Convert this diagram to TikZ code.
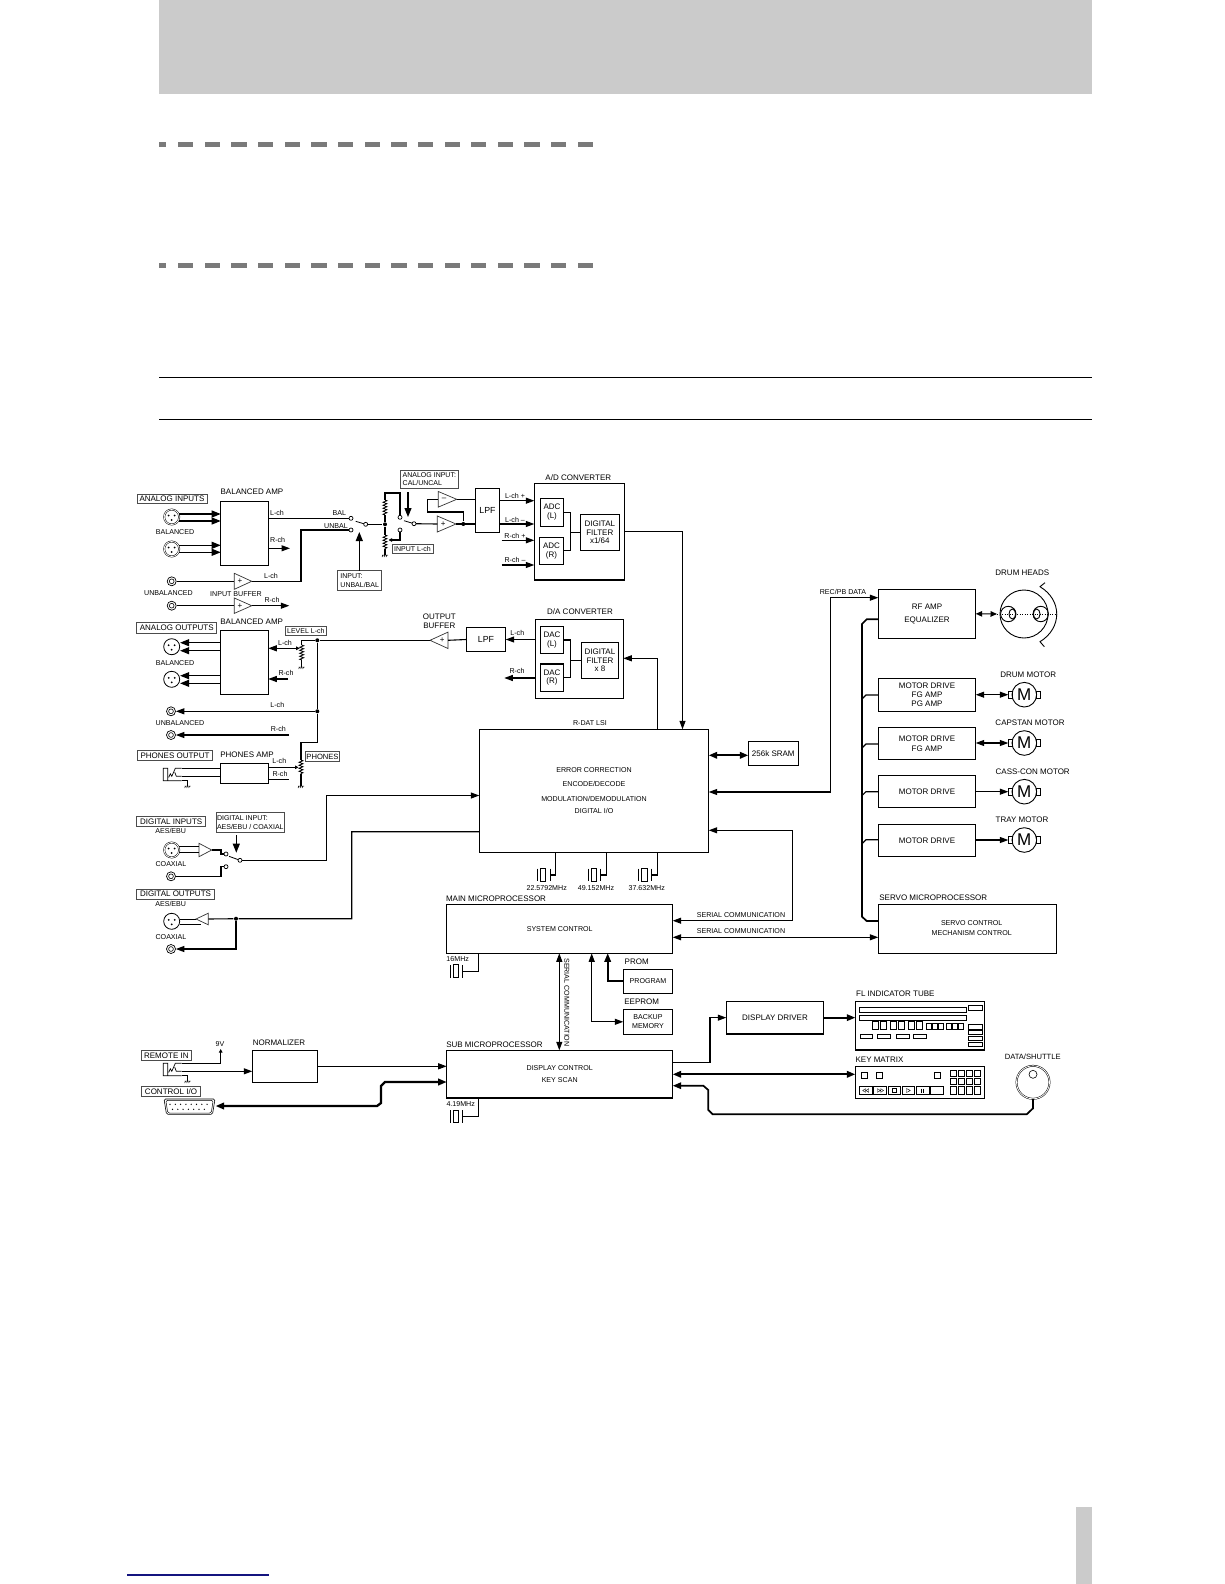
\documentclass[tikz,border=0pt]{standalone}
\usepackage{fontspec}
\setmainfont{Liberation Sans}
\usetikzlibrary{arrows.meta,decorations.pathmorphing}
\definecolor{bandgray}{HTML}{CBCBCB}
\definecolor{dashgray}{HTML}{7A7A7A}
\definecolor{linkblue}{HTML}{14147F}
\newcommand{\blockbox}[7][]{\node[blockbox,#1,minimum width={(#5-#3)*1pt},minimum height={(#6-#4)*1pt}] (#2) at ({(#3+#5)/2},{(#4+#6)/2}) {#7};}
\newcommand{\amptri}[6]{
  \coordinate (#1-in) at (#2,#4);
  \coordinate (#1-out) at (#3,#4);
  \draw[ampline] (#2,#4-#5) -- (#3,#4) -- (#2,#4+#5) -- cycle;
  \node[biglab] (#1-s) at ({#2+(#3-#2)*.32},#4) {#6};
}
\newcommand{\zigres}[4]{
  \coordinate (#1-t) at (#2,#3);
  \coordinate (#1-b) at (#2,#4);
  \draw[line width=.8pt,decorate,decoration={zigzag,segment length=3pt,amplitude=2pt}] (#1-t) -- (#1-b);
}
\newcommand{\groundsym}[3]{
  \coordinate (#1) at (#2,#3);
  \draw[line width=.5pt,shift={(#2,#3)}] (-3,0) -- (3,0) (-2,0) -- (-3,2) (0,0) -- (-1,2) (2,0) -- (1,2);
}
\newcommand{\xlrsym}[4]{
  \node[#4] (#1) at (#2,#3) {};
  \fill[shift={(#2,#3)}] (-3,-1.5) circle (1) (3,-1.5) circle (1) (0,3) circle (1);
}
\newcommand{\jacksym}[3]{
  \node[jacknode] (#1) at (#2,#3) {};
  \draw[line width=.6pt] (#1) circle (2.4);
}
\newcommand{\crystal}[5]{
  \coordinate (#1-r) at (#3,#4);
  \draw[line width=.9pt] (#2,#4-#5) -- (#2,#4+#5) (#3,#4-#5) -- (#3,#4+#5);
  \draw[line width=.9pt] ({#2+3.6},#4-#5) rectangle ({#3-4.2},#4+#5);
}
\newcommand{\phonejack}[2]{
  \coordinate (#1-tip) at (181.7,#2);
  \coordinate (#1-ring) at (181.7,#2+8);
  \coordinate (#1-sl) at (181.7,#2+12.4);
  \draw[line width=.7pt,shift={(163.3,#2)}] (0,0) rectangle (4.4,12.4) (4.4,12.4) -- (18.4,12.4)
    (18.4,0) -- (12,0) -- (8.5,8) -- (7,5.5) -- (5.5,9) (18.4,8) -- (13,8) -- (11.5,4);
}
\newcommand{\motorsym}[3]{
  \node[motorbody] (#1) at (#2,#3) {M};
  \draw[line width=.9pt] (#2-16,#3-3.7) rectangle (#2-12,#3+3.7) (#2+12,#3-3.7) rectangle (#2+16.3,#3+3.7);
  \coordinate (#1-l) at (#2-16,#3);
}
\begin{document}
\begin{tikzpicture}[
  x=1pt,y=-1pt,
  line width=1.1pt,
  >={Triangle[length=8.5pt,width=6pt]},
  lab/.style={font=\fontsize{7.1}{8.6}\selectfont,inner sep=0pt,align=center},
  biglab/.style={font=\fontsize{8}{8.8}\selectfont,inner sep=0pt,align=center},
  blockbox/.style={draw,rectangle,inner sep=0pt,outer sep=0pt,align=center,font=\fontsize{8}{8.6}\selectfont},
  smallbox/.style={font=\fontsize{7.1}{8.6}\selectfont},
  framelab/.style={draw=black!70,line width=.7pt},
  framesmall/.style={draw=black!70,line width=.7pt,font=\fontsize{7}{8.4}\selectfont},
  lpfbox/.style={font=\fontsize{8.8}{10}\selectfont},
  contact/.style={draw,circle,line width=.7pt,inner sep=0pt,minimum size=4pt,outer sep=0pt},
  dotnode/.style={fill,circle,inner sep=0pt,minimum size=4pt},
  ampline/.style={line width=.7pt,draw=black!80},
  xlrin/.style={draw,circle,double,double distance=.8pt,line width=.5pt,inner sep=0pt,minimum size=15pt},
  xlrout/.style={draw,circle,line width=.8pt,inner sep=0pt,minimum size=16pt},
  jacknode/.style={draw,circle,line width=.7pt,inner sep=0pt,minimum size=9pt},
  motorbody/.style={draw,circle,line width=.9pt,inner sep=0pt,minimum size=24.6pt,font=\fontsize{17}{17}\selectfont},
  smalltip/.style={-{Triangle[length=3.5pt,width=3.5pt]}},
  fatline/.style={line width=2.3pt,>={Triangle[length=8.5pt,width=6.5pt]}},
  midline/.style={line width=1.7pt,>={Triangle[length=8.5pt,width=6.5pt]}},
  bigtip/.style={>={Triangle[length=9pt,width=7pt]}}
]
  \useasboundingbox (0,0) rectangle (1224,1584);
  \fill[bandgray] (159,0) rectangle (1092,94);
  \foreach \y in {142,262.7} {
    \fill[dashgray] (159,\y) rectangle ++(6.5,5.2);
    \foreach \i in {0,...,15}
      \fill[dashgray] ({178+26.65*\i},\y) rectangle ++(15.3,5.2);
  }
  \draw (159,377.3) -- (1092,377.3);
  \draw (159,419.3) -- (1092,419.3);
  \draw[linkblue] (127.2,1575) -- (269,1575);
  \fill[bandgray] (1076,1507) rectangle (1092,1584);

  \blockbox[framelab]{anainbox}{137}{494}{207}{503.3}{ANALOG INPUTS}
  \node[biglab] (balinlab) at (252,491.7) {BALANCED AMP};
  \blockbox{balin}{220.7}{501.7}{268.3}{565.3}{}
  \xlrsym{xlra}{171.7}{517}{xlrin}
  \xlrsym{xlrb}{171.7}{549}{xlrin}
  \node[lab] (balinl) at (175,532.3) {BALANCED};
  \draw[->,bigtip] (xlra.east |- 0,514) -- (balin.west |- 0,514);
  \draw[->,bigtip] (xlra.east |- 0,521) -- (balin.west |- 0,521);
  \draw[->,bigtip] (xlrb.east |- 0,545.3) -- (balin.west |- 0,545.3);
  \draw[->,bigtip] (xlrb.east |- 0,552.3) -- (balin.west |- 0,552.3);
  \node[lab] (lchina) at (277,513.3) {L-ch};
  \node[lab] (rchina) at (277.7,540) {R-ch};
  \node[lab] (ballab) at (339.3,512.7) {BAL};
  \node[lab] (unballab) at (336,526.3) {UNBAL};
  \node[contact] (bal) at (351,518.3) {};
  \node[contact] (unbal) at (351,530) {};
  \node[contact] (swa) at (365.7,524.3) {};
  \node[dotnode] (jna) at (385,524.3) {};
  \coordinate (roa) at (290,548.3);
  \draw (balin.east |- bal) -- (bal);
  \draw[->] (balin.east |- roa) -- (roa);
  \draw[line width=.8pt] (swa) -- ++(-10,-3);
  \draw (swa) -- (jna);
  \jacksym{jacka}{171.7}{581.3}
  \jacksym{jackb}{171.7}{605.7}
  \amptri{ampa}{234.3}{251.7}{581.3}{8}{+}
  \amptri{ampb}{234.3}{251.7}{605.7}{7.7}{+}
  \coordinate (unbcor) at (301,581.3);
  \coordinate (robout) at (289.3,605.7);
  \draw (jacka) -- (ampa-in);
  \draw (ampa-out) -- (unbcor) |- (unbal);
  \draw (jackb) -- (ampb-in);
  \draw[->] (ampb-out) -- (robout);
  \node[lab] (lchinb) at (271,575.7) {L-ch};
  \node[lab] (rchinb) at (272,600) {R-ch};
  \node[lab] (unbinl) at (168.5,593.3) {UNBALANCED};
  \node[lab] (bufinl) at (236,594) {INPUT BUFFER};
  \blockbox[framesmall,align=left]{unbbox}{337.7}{570.7}{381.7}{590.3}{INPUT:\\UNBAL/BAL}
  \coordinate (unbtip) at (359.3,532);
  \draw[->,bigtip] (unbbox.north -| unbtip) -- (unbtip);

  \zigres{rupp}{385}{500}{515}
  \zigres{rlow}{385}{535}{549}
  \groundsym{gnda}{385}{555}
  \node[contact] (calup) at (400,517.3) {};
  \node[contact] (caldn) at (400,530) {};
  \node[contact] (swb) at (414,523.7) {};
  \coordinate (rupc) at (385,493);
  \coordinate (wipa) at (388.5,540);
  \draw (jna) -- (rupp-b);
  \draw (rupp-t) -- (rupc) -| (calup);
  \draw (jna) -- (rlow-t);
  \draw (rlow-b) -- (gnda);
  \draw[smalltip] (caldn) |- (wipa);
  \draw[line width=.8pt] (swb) -- ++(-10,-3);
  \blockbox[framesmall]{inlbox}{392}{544}{433}{553}{INPUT L-ch}
  \blockbox[framesmall,align=left]{calbox}{400.7}{470}{458}{488}{ANALOG INPUT:\\CAL/UNCAL}
  \coordinate (calst) at (408,492);
  \coordinate (caltip) at (408,517);
  \draw[->,bigtip] (calst) -- (caltip);
  \amptri{ampc}{438.3}{456.7}{499.3}{7.8}{--}
  \amptri{ampd}{437.3}{456}{524}{8}{+}
  \blockbox[lpfbox]{lpfa}{475.7}{488.3}{499.3}{532.3}{LPF}
  \node[dotnode] (jnb) at (463.3,524) {};
  \coordinate (fba) at (463.3,512);
  \coordinate (fbb) at (427.3,512);
  \draw (swb) -- (ampd-in);
  \draw (ampd-out) -- (lpfa.west |- ampd-out);
  \draw (ampc-out) -- (lpfa.west |- ampc-out);
  \draw (jnb) -- (fba) -- (fbb) |- (ampc-in);

  \node[biglab] (adlab) at (578.3,477.3) {A/D CONVERTER};
  \blockbox{adbox}{534.3}{483.3}{624.3}{580}{}
  \blockbox{adcl}{540.3}{498.3}{563.7}{526.3}{ADC\\(L)}
  \blockbox{adcr}{539.3}{537.3}{563.7}{564.3}{ADC\\(R)}
  \blockbox{filta}{580.3}{514.3}{619.3}{550.3}{DIGITAL\\FILTER\\x1/64}
  \coordinate (adcj) at (570.7,532.3);
  \draw (adcl.east) -| (adcj) |- (adcr.east);
  \draw (adcj) -- (filta.west);
  \coordinate (rpa) at (501.7,540.3);
  \coordinate (rma) at (501.7,565);
  \draw[->] (lpfa.east |- 0,500.7) -- (adbox.west |- 0,500.7);
  \draw[->] (lpfa.east |- 0,524) -- (adbox.west |- 0,524);
  \draw[->] (rpa) -- (adbox.west |- rpa);
  \draw[->] (rma) -- (adbox.west |- rma);
  \node[lab] (lpl) at (515,495.7) {L-ch +};
  \node[lab] (lml) at (515,520) {L-ch --};
  \node[lab] (rpl) at (515,536.3) {R-ch +};
  \node[lab] (rml) at (515,560.3) {R-ch --};

  \node[biglab] (dalab) at (580,612) {D/A CONVERTER};
  \blockbox{dabox}{535.3}{619.3}{623.3}{698.3}{}
  \blockbox{dacl}{540.3}{626.3}{563.7}{653.7}{DAC\\(L)}
  \blockbox{dacr}{540.3}{664}{563.7}{691.3}{DAC\\(R)}
  \blockbox{filtb}{581.3}{642.3}{618.7}{678.7}{DIGITAL\\FILTER\\x 8}
  \coordinate (dacj) at (570.7,660.5);
  \draw (dacl.east) -| (dacj) |- (dacr.east);
  \draw (dacj) -- (filtb.west);
  \blockbox[lpfbox]{lpfb}{466.3}{627.3}{505.7}{651.7}{LPF}
  \coordinate (roda) at (504.3,678);
  \draw[->] (dabox.west |- lpfb) -- (lpfb.east);
  \draw[->] (dabox.west |- roda) -- (roda);
  \node[lab] (lchda) at (517.3,633.3) {L-ch};
  \node[lab] (rchda) at (517,670.7) {R-ch};
  \amptri{ampe}{448}{430}{640.3}{8.2}{+}
  \node[biglab] (outbuf) at (439.3,621.5) {OUTPUT\\BUFFER};
  \draw (lpfb.west) -- (ampe-in);

  \blockbox[framelab]{anaoutbox}{136.7}{622.7}{216.7}{633}{ANALOG OUTPUTS}
  \node[biglab] (baloutlab) at (251.7,621.3) {BALANCED AMP};
  \blockbox{balout}{220.7}{630.3}{268.3}{694.3}{}
  \xlrsym{xlrc}{171.7}{646.7}{xlrout}
  \xlrsym{xlrd}{171.7}{679.3}{xlrout}
  \node[lab] (balol) at (175,663.3) {BALANCED};
  \foreach \n/\y in {xlrc/642.7,xlrc/650.7,xlrd/675.7,xlrd/683.3}
    \draw[->,bigtip] (balout.west |- 0,\y) -- (\n.east |- 0,\y);
  \blockbox[framesmall]{lvlbox}{285}{626.7}{326.7}{635.3}{LEVEL L-ch}
  \zigres{lvp}{301.7}{645}{660}
  \groundsym{gndb}{301.7}{667}
  \node[dotnode] (jnc) at (317.3,640.3) {};
  \coordinate (lvc) at (301.7,640.3);
  \coordinate (lvw) at (295,648.3);
  \coordinate (lvt) at (299.7,648.3);
  \coordinate (rlv) at (288,679);
  \draw (ampe-out) -- (jnc) -- (lvc) -- (lvp-t);
  \draw (lvp-b) -- (gndb);
  \draw[->] (lvw) -- (balout.east |- lvw);
  \draw[smalltip] (lvw) -- (lvt);
  \draw[->] (rlv) -- (balout.east |- rlv);
  \node[lab] (lchlv) at (285,643) {L-ch};
  \node[lab] (rchlv) at (286,672.7) {R-ch};

  \jacksym{jackc}{171}{711.3}
  \jacksym{jackd}{171}{735}
  \node[dotnode] (jnd) at (317.3,711.3) {};
  \coordinate (phc) at (317.3,742.7);
  \coordinate (rjk) at (289,735);
  \draw (jnc) -- (jnd) -- (phc);
  \draw[->] (jnd) -- (jackc.east);
  \draw[->] (rjk) -- (jackd.east);
  \node[lab] (lchjk) at (277.3,704.7) {L-ch};
  \node[lab] (rchjk) at (278.3,729) {R-ch};
  \node[lab] (unbol) at (180,722.7) {UNBALANCED};

  \blockbox[framelab]{phonbox}{137.7}{750.3}{212.3}{760.3}{PHONES OUTPUT}
  \node[biglab] (phamplab) at (247,754.7) {PHONES AMP};
  \blockbox{phamp}{220.7}{763.3}{268.3}{783.3}{}
  \phonejack{phj}{768.3}
  \groundsym{gndc}{187.7}{786}
  \draw (phj-tip) -- (phamp.west |- phj-tip);
  \draw (phj-ring) -- (phamp.west |- phj-ring);
  \draw[line width=.7pt] (phj-sl) -| (gndc);
  \zigres{php}{301}{760}{774.3}
  \groundsym{gndd}{301}{786}
  \coordinate (phl) at (298.5,767.3);
  \coordinate (phr) at (289,779.3);
  \draw (phc) -| (php-t);
  \draw (php-b) -- (gndd);
  \draw[smalltip] (phamp.east |- phl) -- (phl);
  \draw (phamp.east |- phr) -- (phr);
  \blockbox[framelab,font=\fontsize{7.6}{8.6}\selectfont]{phbox}{305.3}{751.3}{339.7}{761.7}{PHONES}
  \node[lab] (lchph) at (279.3,761.3) {L-ch};
  \node[lab] (rchph) at (280,774) {R-ch};

  \node[lab] (lsilab) at (590,722.7) {R-DAT LSI};
  \blockbox[smallbox]{lsi}{479.3}{729.3}{708.7}{852.3}{ERROR CORRECTION\\[5.7pt]ENCODE/DECODE\\[5.7pt]MODULATION/DEMODULATION\\[4.1pt]DIGITAL I/O}
  \blockbox{sram}{748.3}{741.3}{798.3}{765.3}{256k SRAM}
  \draw[<->,fatline] (lsi.east |- 0,755.3) -- (sram.west |- 0,755.3);
  \coordinate (adout) at (682.5,531.3);
  \coordinate (daup) at (657.3,658.3);
  \draw[->] (adbox.east |- adout) -- (adout) -- (lsi.north -| adout);
  \draw[->] (lsi.north -| daup) -- (daup) -- (dabox.east |- daup);

  \blockbox[framelab]{diginbox}{136.7}{816.7}{205.7}{826}{DIGITAL INPUTS}
  \node[lab] (aesa) at (170.7,831) {AES/EBU};
  \blockbox[framesmall,align=left]{dsbox}{216.3}{812.7}{284.3}{832.3}{DIGITAL INPUT:\\AES/EBU / COAXIAL}
  \xlrsym{xlre}{171.7}{850}{xlrin}
  \amptri{ampf}{199}{211.7}{850}{6.7}{}
  \draw[line width=.8pt] (xlre.east |- 0,846) -- (ampf-in |- 0,846);
  \draw[line width=.8pt] (xlre.east |- 0,852.7) -- (ampf-in |- 0,852.7);
  \node[contact] (dsa) at (226,854) {};
  \node[contact] (dsb) at (226,866.7) {};
  \node[contact] (dsw) at (240,860.3) {};
  \coordinate (dsc) at (221,850);
  \coordinate (dsd) at (221,876.3);
  \draw (ampf-out) -- (dsc) |- (dsa);
  \jacksym{jacke}{171}{876.3}
  \draw (jacke) -- (dsd) |- (dsb);
  \draw[line width=.8pt] (dsw) -- ++(-11,-4);
  \node[lab] (coaxa) at (171,864) {COAXIAL};
  \coordinate (dgst) at (236.3,835);
  \coordinate (dgtip) at (236.3,852.7);
  \draw[->,bigtip] (dgst) -- (dgtip);
  \coordinate (dla) at (326.7,860.3);
  \coordinate (dlb) at (326.7,795.5);
  \draw[->] (dsw) -- (dla) -- (dlb) -- (lsi.west |- dlb);

  \blockbox[framelab]{digoutbox}{136.7}{889.3}{214.3}{899}{DIGITAL OUTPUTS}
  \node[lab] (aesb) at (170.7,904.3) {AES/EBU};
  \xlrsym{xlrf}{171.7}{921.3}{xlrout}
  \amptri{ampg}{208.3}{196}{919}{5.8}{}
  \node[dotnode] (jne) at (236,918.7) {};
  \coordinate (doa) at (351.7,831.7);
  \coordinate (dob) at (351.7,918.7);
  \coordinate (doc) at (236,949);
  \draw (lsi.west |- doa) -- (doa) -- (dob) -- (jne) -- (ampg-in);
  \draw[line width=.8pt] (ampg-out) -- (xlrf.east |- ampg-out);
  \draw[line width=.8pt] (xlrf.east |- 0,924.3) -- (201,924.3);
  \jacksym{jackf}{171}{949}
  \draw[->] (jne) -- (doc) -- (jackf.east);
  \node[lab] (coaxb) at (171,936.7) {COAXIAL};

  \crystal{xta}{537.3}{550}{875}{6.4}
  \crystal{xtb}{588}{600.7}{875}{6.4}
  \crystal{xtc}{638.3}{651.7}{875}{6.4}
  \draw (xta-r) -| (lsi.south -| 555.7,0);
  \draw (xtb-r) -| (lsi.south -| 606.3,0);
  \draw (xtc-r) -| (lsi.south -| 657.7,0);
  \node[lab] (xtal) at (546.7,887.7) {22.5792MHz};
  \node[lab] (xtbl) at (596,887.7) {49.152MHz};
  \node[lab] (xtcl) at (646.7,887.7) {37.632MHz};

  \node[biglab] (mainlab) at (496,899) {MAIN MICROPROCESSOR};
  \blockbox[smallbox]{mainp}{446.7}{904.3}{672.7}{953.3}{SYSTEM CONTROL}
  \coordinate (sra) at (792.7,830.3);
  \coordinate (srb) at (792.7,920.7);
  \coordinate (rpc) at (830.5,792);
  \coordinate (rpd) at (830.5,597.7);
  \draw[<->] (lsi.east |- sra) -- (sra) -- (srb) -- (mainp.east |- srb);
  \node[lab] (seral) at (741,914.7) {SERIAL COMMUNICATION};
  \node[lab] (serbl) at (741,930.7) {SERIAL COMMUNICATION};
  \crystal{xtd}{450}{462.3}{971.3}{6.4}
  \draw (xtd-r) -| (mainp.south -| 478.3,0);
  \node[lab] (xtdl) at (457.7,959) {16MHz};

  \node[biglab] (sublab) at (494.5,1044.3) {SUB MICROPROCESSOR};
  \blockbox[smallbox]{subp}{446.7}{1050.3}{672.7}{1098}{DISPLAY CONTROL\\[3.7pt]KEY SCAN}
  \draw[<->] (mainp.south -| 559.3,0) -- (subp.north -| 559.3,0);
  \node[lab,rotate=-90] (serv) at (566.7,1002.5) {SERIAL COMMUNICATION};
  \crystal{xte}{450}{462.3}{1116.5}{6.4}
  \draw (xte-r) -| (subp.south -| 478.3,0);
  \node[lab] (xtel) at (460.7,1103.7) {4.19MHz};

  \node[biglab] (promlab) at (636.7,961.7) {PROM};
  \blockbox[smallbox]{prom}{623.3}{969.3}{672.7}{993.3}{PROGRAM}
  \node[biglab] (eelab) at (641.7,1001.7) {EEPROM};
  \blockbox[smallbox]{backup}{623.3}{1009.3}{672.7}{1034.3}{BACKUP\\MEMORY}
  \coordinate (prc) at (607.7,981.3);
  \coordinate (bkc) at (591.7,1021.8);
  \draw[->,midline] (prom.west) -- (prc) -- (mainp.south -| prc);
  \draw[<->] (mainp.south -| bkc) -- (bkc) -- (backup.west);

  \blockbox[framelab]{rmbox}{141}{1050.7}{191.7}{1060.3}{REMOTE IN}
  \node[lab] (ninev) at (220,1044) {9V};
  \phonejack{rmj}{1063.3}
  \groundsym{gnde}{187.7}{1081}
  \coordinate (ninet) at (220.7,1049);
  \node[biglab] (normlab) at (279,1042.3) {NORMALIZER};
  \blockbox{norm}{252.3}{1050.3}{317.7}{1082.3}{}
  \draw[smalltip] (rmj-tip) -| (ninet);
  \draw[->] (rmj-ring) -- (norm.west |- rmj-ring);
  \draw[line width=.7pt] (rmj-sl) -| (gnde);
  \draw[->] (norm.east) -- (subp.west |- norm.east);
  \blockbox[framelab]{ctlbox}{141.7}{1086.7}{200.3}{1096.3}{CONTROL I/O}
  \node[inner sep=0pt,minimum width=51pt,minimum height=15.3pt] (dsub) at (189.5,1106.7) {};
  \draw[line width=.6pt,rounded corners=1.5pt] (164,1099) -- (215,1099) -- (212.5,1114.3) -- (166.5,1114.3) -- cycle;
  \draw[line width=.5pt,rounded corners=1.5pt] (165.8,1100.4) -- (213.2,1100.4) -- (211.2,1113) -- (167.8,1113) -- cycle;
  \foreach \i in {0,...,7}
    \fill ({170+5.3*\i},1104.3) circle (.7);
  \foreach \i in {0,...,6}
    \fill ({172.5+5.3*\i},1109.3) circle (.7);
  \coordinate (cta) at (385,1082);
  \coordinate (ctb) at (381,1086);
  \coordinate (ctc) at (381,1103);
  \coordinate (ctd) at (377,1106);
  \draw[<->,fatline] (subp.west |- cta) -- (cta) -- (ctb) -- (ctc) -- (ctd) -- (dsub.east |- ctd);

  \blockbox{drv}{726.3}{1001.3}{823.7}{1034}{DISPLAY DRIVER}
  \node[biglab] (fllab) at (895.3,994) {FL INDICATOR TUBE};
  \blockbox{flbox}{855.3}{1001.7}{984.3}{1050}{}
  \draw[line width=1.4pt] (flbox.south west) -- (flbox.south east);
  \coordinate (dra) at (710,1062.3);
  \draw[->] (subp.east |- dra) -- (dra) |- (drv.west);
  \draw[->,midline] (drv.east) -- (flbox.west |- drv.east);
  \begin{scope}[line width=.7pt]
    \draw (859.3,1007.3) rectangle (966.7,1012.7);
    \draw (859.3,1015) rectangle (966.7,1020.7);
    \draw (968.3,1005.3) rectangle (982.7,1010.7);
    \foreach \x in {872.3,880.7,890.3,898.7,908.3,916.7}
      \draw (\x,1021.7) rectangle ++(6,7.6);
    \foreach \x in {926.7,932.7,938.3,946.7,952.3,958.3}
      \draw (\x,1023.3) rectangle ++(4.6,6);
    \foreach \y in {1024.7,1030.3,1036.3,1042.3}
      \draw (968.3,\y) rectangle ++(14.4,4.4);
    \foreach \x/\w in {860.3/12.4,877.3/13.4,896.3/12.7,913.3/13.4}
      \draw (\x,1034) rectangle ++(\w,4.7);
  \end{scope}

  \node[biglab] (keylab) at (879.5,1060) {KEY MATRIX};
  \blockbox{keybox}{855.3}{1066.7}{984.3}{1098.3}{}
  \draw[<->,fatline] (subp.east |- 0,1074.3) -- (keybox.west |- 0,1074.3);
  \begin{scope}[line width=.7pt]
    \foreach \x in {861.3,876.7,934.3}
      \draw (\x,1072) rectangle ++(6,6.7);
    \foreach \x/\w in {859.3/13,873.7/13,888/12.7,902/12.7,916/13,930.3/13.4}
      \draw (\x,1086.7) rectangle ++(\w,7.6);
    \foreach \x in {950.3,958.3,966.3,974.3} {
      \draw (\x,1070.7) rectangle ++(6.4,6);
      \draw (\x,1078.7) rectangle ++(6.4,6);
      \draw (\x,1086.7) rectangle ++(6.4,7.3);
    }
  \end{scope}
  \begin{scope}[line width=.4pt]
    \draw (865.5,1088.7) -- (862.7,1090.5) -- (865.5,1092.3) -- cycle (868.7,1088.7) -- (865.9,1090.5) -- (868.7,1092.3) -- cycle;
    \draw (877.5,1088.7) -- (880.3,1090.5) -- (877.5,1092.3) -- cycle (880.7,1088.7) -- (883.5,1090.5) -- (880.7,1092.3) -- cycle;
    \draw (892.3,1088.5) rectangle (896.3,1092.5);
    \draw (906.5,1088.5) -- (910.3,1090.5) -- (906.5,1092.5) -- cycle;
    \draw[line width=.8pt] (921.2,1088.5) -- (921.2,1092.5) (923.8,1088.5) -- (923.8,1092.5);
  \end{scope}

  \node[lab,font=\fontsize{7.6}{8.6}\selectfont] (datlab) at (1032.7,1057) {DATA/SHUTTLE};
  \node[draw,circle,double,double distance=.8pt,line width=.5pt,inner sep=0pt,minimum size=33pt] (knob) at (1033,1082.3) {};
  \draw[line width=.6pt] (1033,1074.3) circle (4);
  \coordinate (kba) at (703.3,1085.7);
  \coordinate (kbb) at (708.3,1090);
  \coordinate (kbc) at (708.3,1110);
  \coordinate (kbd) at (712.7,1114.3);
  \coordinate (kbe) at (1026.7,1114.3);
  \coordinate (kbf) at (1033,1108.3);
  \draw[<-,midline] (subp.east |- kba) -- (kba) -- (kbb) -- (kbc) -- (kbd) -- (kbe) -- (kbf) -- (knob.south);

  \node[biglab] (headlab) at (1022.3,572.7) {DRUM HEADS};
  \blockbox{rfamp}{878.3}{589.3}{975.7}{638.3}{RF AMP\\[4.8pt]EQUALIZER}
  \draw[<->] (lsi.east |- rpc) -- (rpc) -- (rpd) -- (rfamp.west |- rpd);
  \node[lab] (recpb) at (843,591.7) {REC/PB DATA};
  \node[draw,circle,line width=.9pt,inner sep=0pt,minimum size=48pt] (drum) at (1024,614) {};
  \coordinate (drmin) at (997,614);
  \coordinate (drmend) at (1057,614);
  \draw[<->,>={Triangle[length=6.5pt,width=5.5pt]}] (rfamp.east) -- (drmin);
  \draw[dotted,line width=.5pt] (drmin) -- (drmend);
  \begin{scope}[line width=.9pt]
    \draw (1008.3,614) circle (7.7);
    \draw (1012.3,614) ellipse (3.3 and 5);
    \draw (1040.7,614) circle (7.7);
    \draw (1036.7,614) ellipse (3.3 and 5);
    \draw (1045,582.7) -- (1040,586.7) .. controls (1062.3,600) and (1062.3,628) .. (1040,641.7) -- (1044.3,646.7);
  \end{scope}

  \blockbox{mdrum}{878.3}{678.3}{975.7}{711.3}{MOTOR DRIVE\\FG AMP\\PG AMP}
  \blockbox{mcap}{878.3}{727.3}{975.7}{759.3}{MOTOR DRIVE\\[1.4pt]FG AMP}
  \blockbox{mcass}{878.3}{775.7}{975.7}{807.3}{MOTOR DRIVE}
  \blockbox{mtray}{878.3}{824.3}{975.7}{856.3}{MOTOR DRIVE}
  \node[biglab] (drumml) at (1028.3,674.3) {DRUM MOTOR};
  \node[biglab] (capml) at (1030,723) {CAPSTAN MOTOR};
  \node[biglab] (cassml) at (1032.7,771.3) {CASS-CON MOTOR};
  \node[biglab] (trayml) at (1022,819.7) {TRAY MOTOR};
  \motorsym{drumm}{1024.3}{694.7}
  \motorsym{capm}{1024.3}{743}
  \motorsym{cassm}{1024.3}{791.7}
  \motorsym{traym}{1024.3}{840}
  \draw[<->] (mdrum.east |- drumm-l) -- (drumm-l);
  \draw[<->] (mcap.east |- capm-l) -- (capm-l);
  \draw[->] (mcass.east |- cassm-l) -- (cassm-l);
  \draw[->] (mtray.east |- traym-l) -- (traym-l);

  \node[biglab] (servlab) at (933.3,897.3) {SERVO MICROPROCESSOR};
  \blockbox{servo}{878.3}{904.3}{1056.7}{953.3}{}
  \node[lab] (servtxt) at (971.7,928.2) {SERVO CONTROL\\[1.1pt]MECHANISM CONTROL};
  \draw[<->] (mainp.east |- 0,937.3) -- (servo.west |- 0,937.3);
  \coordinate (bua) at (866.7,619.3);
  \coordinate (bub) at (862,624);
  \coordinate (buc) at (862,916.7);
  \coordinate (bud) at (866.7,921);
  \draw[midline] (rfamp.west |- bua) -- (bua) -- (bub) -- (buc) -- (bud) -- (servo.west |- bud);
  \foreach \n/\y in {mdrum/695,mcap/744,mcass/791.7,mtray/839.7}
    \draw (\n.west |- 0,\y) -- (866,\y) -- (862,\y+4);
\end{tikzpicture}
\end{document}
